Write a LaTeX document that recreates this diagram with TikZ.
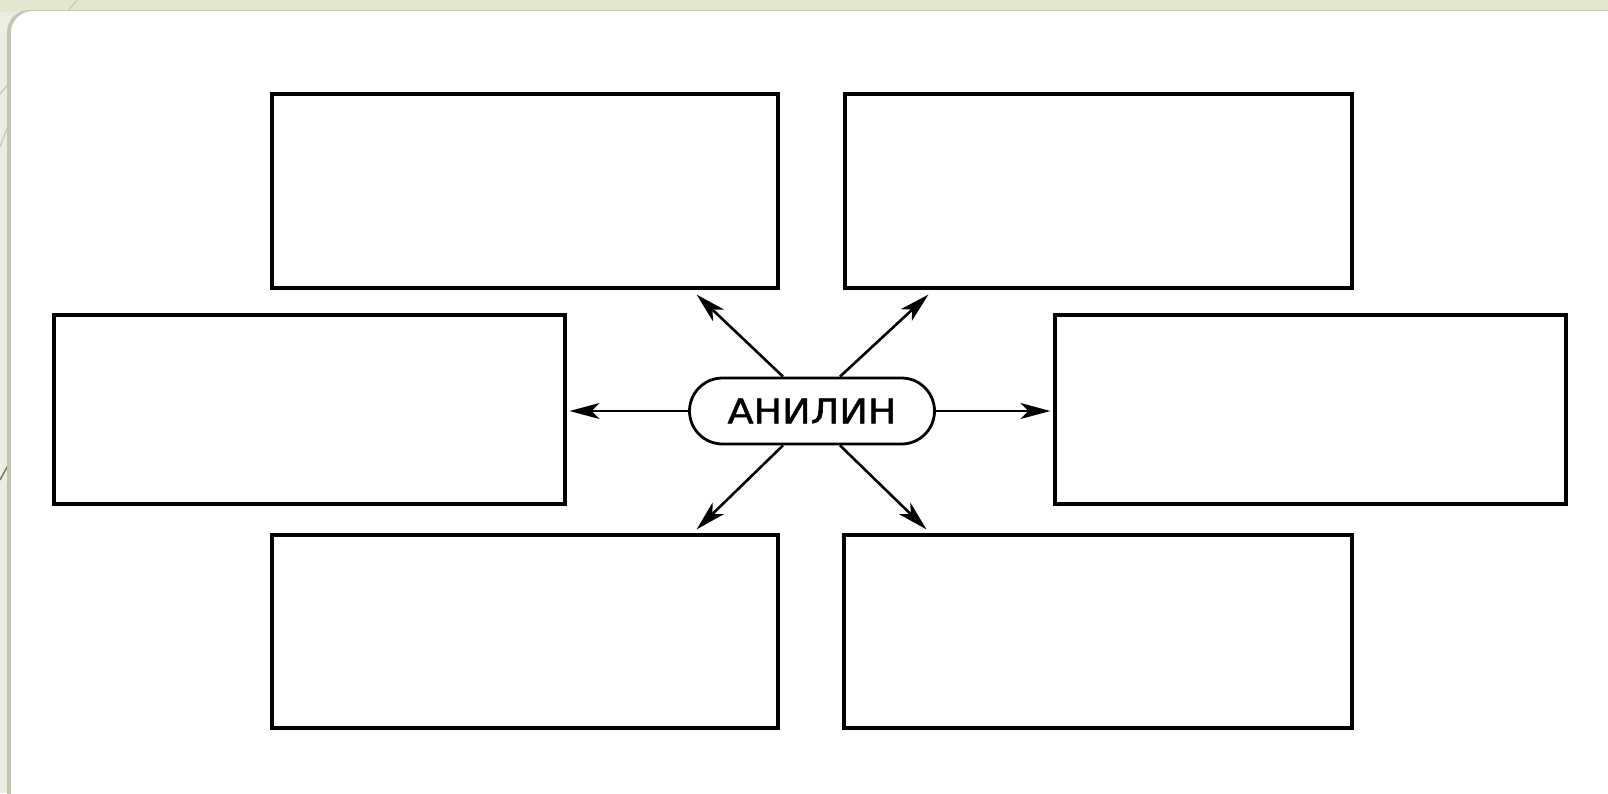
\documentclass[tikz,border=0pt]{standalone}
\usepackage{fontspec}
\newfontfamily\cyr[FakeBold=1.3]{DejaVu Sans}
\usetikzlibrary{shapes.misc,arrows.meta}
\definecolor{bgc}{HTML}{ECEEE2}
\definecolor{bgtop}{HTML}{E3E8D0}
\definecolor{shadowc}{HTML}{C4C6B5}
\definecolor{decoA}{HTML}{C8C8B6}
\definecolor{decoB}{HTML}{7C7762}
\tikzset{
  box/.style={draw, rectangle, line width=3.2pt, inner sep=0pt},
  hub/.style={draw, rounded rectangle, line width=2.8pt, inner sep=0pt, minimum width=245pt, minimum height=66pt, font=\cyr\fontsize{34}{34}\selectfont},
  arr/.style={line width=2.6pt, -{Stealth[length=30pt, width=16pt, inset=8pt]}}
}
\begin{document}
\begin{tikzpicture}[x=1pt, y=-1pt]
\useasboundingbox (0,0) rectangle (1608,793);
% background
\fill[bgc] (0,0) rectangle (1608,793);
\fill[bgtop] (0,0) rectangle (1608,12);
\draw[decoA, line width=1.2pt] (77,0) -- (0,94);
\draw[decoA, line width=1.2pt] (30,68) -- (0,147);
\draw[decoB, line width=1.5pt] (30,425) -- (0,480);
% panel with shadow
\fill[shadowc, rounded corners=22pt] (7,10) rectangle (1640,830);
\fill[white, rounded corners=22pt] (11,11) rectangle (1640,830);
% boxes
\node[box, minimum width=506pt, minimum height=194pt] (tl) at (525,191) {};
\node[box, minimum width=507pt, minimum height=194pt] (tr) at (1098.5,191) {};
\node[box, minimum width=511pt, minimum height=189pt] (ml) at (309.5,409.5) {};
\node[box, minimum width=511pt, minimum height=189pt] (mr) at (1310.5,409.5) {};
\node[box, minimum width=506pt, minimum height=193pt] (bl) at (525,631.5) {};
\node[box, minimum width=508pt, minimum height=193pt] (br) at (1098,631.5) {};
% hub
\node[hub] (c) at (812,411) {\scalebox{1.12}[1]{АНИЛИН}};
% arrows
\draw[arr] (c.west) -- ([xshift=3pt]c.west -| ml.east);
\draw[arr] (c.east) -- ([xshift=-3pt]c.east -| mr.west);
\draw[arr] ([xshift=-29pt]c.north) -- ([xshift=-83pt,yshift=-5pt]tl.south east);
\draw[arr] ([xshift=28pt]c.north) -- ([xshift=85pt,yshift=-5pt]tr.south west);
\draw[arr] ([xshift=-29pt]c.south) -- ([xshift=-83pt,yshift=4pt]bl.north east);
\draw[arr] ([xshift=28pt]c.south) -- ([xshift=84pt,yshift=4pt]br.north west);
\end{tikzpicture}
\end{document}
